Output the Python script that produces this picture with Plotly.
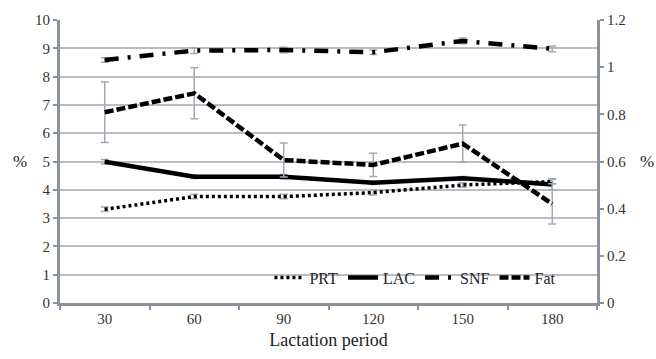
import plotly.graph_objects as go

periods = ["30", "60", "90", "120", "150", "180"]
prt = [3.31, 3.76, 3.76, 3.90, 4.17, 4.29]
prt_err = [0.08, 0.08, 0.08, 0.08, 0.08, 0.08]
lac = [4.99, 4.46, 4.46, 4.25, 4.41, 4.19]
lac_err = [0.08, 0.06, 0.08, 0.06, 0.06, 0.2]
snf = [8.59, 8.92, 8.94, 8.86, 9.26, 8.98]
snf_err = [0.08, 0.1, 0.1, 0.08, 0.1, 0.1]
fat = [6.74, 7.41, 5.05, 4.88, 5.63, 3.50]
fat_err = [1.07, 0.9, 0.6, 0.41, 0.66, 0.71]

left_ticks = [0, 1, 2, 3, 4, 5, 6, 7, 8, 9, 10]
right_ticks = [0, 0.2, 0.4, 0.6, 0.8, 1.0, 1.2]
right_labels = ["0", "0.2", "0.4", "0.6", "0.8", "1", "1.2"]

FONT = "'Liberation Serif', 'DejaVu Serif', 'Times New Roman', serif"
ERRC = "#a3aab2"
GRID = "#b9bec6"
AXC = "#8b929b"

def eb(v):
    return dict(type="data", array=v, color=ERRC, thickness=1.5, width=4)

fig = go.Figure()
fig.add_trace(go.Scatter(x=periods, y=prt, name="PRT", mode="lines",
                         line=dict(color="black", width=3.5, dash="3px,3px"),
                         error_y=eb(prt_err)))
fig.add_trace(go.Scatter(x=periods, y=lac, name="LAC", mode="lines",
                         line=dict(color="black", width=4.5),
                         error_y=eb(lac_err)))
fig.add_trace(go.Scatter(x=periods, y=snf, name="SNF", mode="lines",
                         line=dict(color="black", width=4.5, dash="14px,9px,3px,9px"),
                         error_y=eb(snf_err)))
fig.add_trace(go.Scatter(x=periods, y=fat, name="Fat", mode="lines",
                         line=dict(color="black", width=4.5, dash="9px,3px"),
                         error_y=eb(fat_err)))
fig.add_trace(go.Scatter(x=periods, y=[None] * len(periods), yaxis="y2",
                         showlegend=False, hoverinfo="skip", mode="lines"))

fig.update_layout(
    width=656, height=359,
    margin=dict(l=60, r=59, t=20, b=56),
    plot_bgcolor="white", paper_bgcolor="white",
    font=dict(family=FONT, size=15, color="#222"),
    showlegend=True,
    legend=dict(orientation="h", x=0.39, y=0.03, xanchor="left", yanchor="bottom",
                font=dict(family=FONT, size=16, color="#222"),
                bgcolor="rgba(0,0,0,0)", itemwidth=30, tracegroupgap=0),
    xaxis=dict(type="category", range=[-0.5, len(periods) - 0.5], tickson="boundaries",
               ticks="outside", ticklen=4,
               tickcolor=AXC, tickwidth=2, showline=True, linecolor=AXC, linewidth=3,
               showgrid=False, tickfont=dict(family=FONT, size=15, color="#333"),
               title=dict(text="Lactation period", font=dict(family=FONT, size=18, color="#222"),
                          standoff=8)),
    yaxis=dict(range=[0, 10], tickvals=left_ticks, ticks="outside", ticklen=4,
               tickcolor=AXC, tickwidth=2, showline=True, linecolor=AXC, linewidth=3,
               showgrid=True, gridcolor=GRID, gridwidth=2, zeroline=False,
               tickfont=dict(family=FONT, size=15, color="#333")),
    yaxis2=dict(range=[0, 1.2], tickvals=right_ticks, ticktext=right_labels, overlaying="y",
                side="right", ticks="outside", ticklen=4, tickcolor=AXC, tickwidth=2,
                showline=True, linecolor=AXC, linewidth=3, showgrid=False, zeroline=False,
                tickfont=dict(family=FONT, size=15, color="#333")),
    annotations=[
        dict(text="%", xref="paper", yref="paper", x=-0.075, y=0.5, xanchor="center",
             yanchor="middle", showarrow=False, font=dict(family=FONT, size=17, color="#222")),
        dict(text="%", xref="paper", yref="paper", x=1.093, y=0.5, xanchor="center",
             yanchor="middle", showarrow=False, font=dict(family=FONT, size=17, color="#222")),
    ],
)

fig.write_html("out.html", config={"displayModeBar": False},
               post_script="document.body.style.margin='0';")
